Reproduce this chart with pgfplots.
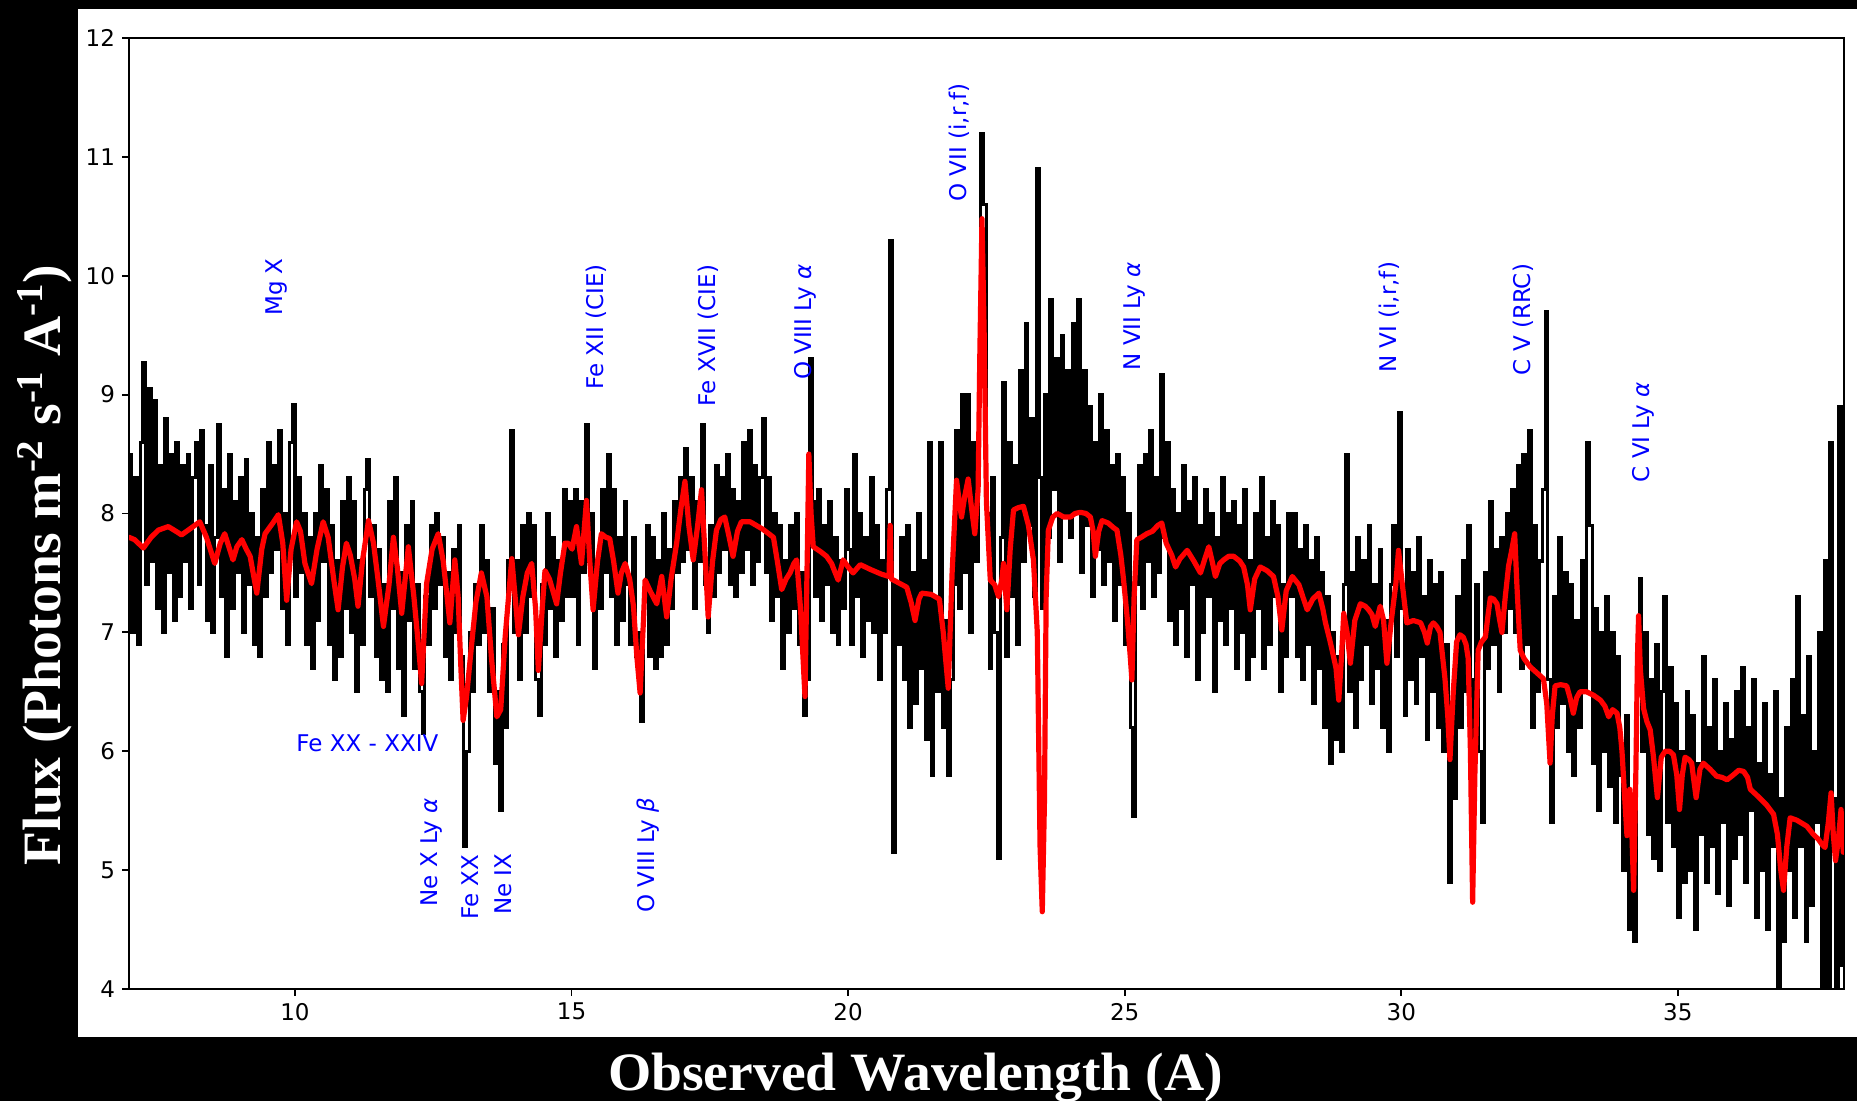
\documentclass[border=0pt]{standalone}
\usepackage{fontspec}
\setmainfont{DejaVu Sans}
\newfontfamily\labelfont{Liberation Serif}[FakeStretch=1.03]
\usepackage{pgfplots}
\pgfplotsset{compat=1.18}
\begin{document}
\begin{tikzpicture}[x=1pt,y=1pt]
\fill[black] (0,0) rectangle (928.5,550.5);
\useasboundingbox (0,0) rectangle (928.5,550.5);
\fill[white] (39,32) rectangle (928.5,546);
\begin{axis}[
  at={(64.5pt,56pt)}, anchor=south west,
  scale only axis, width=857.4pt, height=475.5pt,
  xmin=7, xmax=38, ymin=4, ymax=12,
  xtick={10,15,20,25,30,35}, ytick={4,5,6,7,8,9,10,11,12},
  tick align=outside, xtick pos=bottom, ytick pos=left,
  major tick length=3.5pt,
  axis line style={line width=0.9pt},
  every tick/.style={black, line width=0.9pt},
  tick label style={font=\fontsize{11.5}{13}\selectfont},
  /pgf/number format/assume math mode=true,
  clip=true,
]
\addplot[const plot, black, line width=1.55pt] coordinates {
(7.00,8.5)(7.05,7.0)(7.10,8.3)(7.15,6.9)(7.20,8.6)(7.25,9.27)(7.30,7.4)(7.35,9.05)(7.40,7.6)(7.45,8.95)(7.50,7.2)(7.55,8.4)(7.60,7.0)(7.65,8.8)(7.70,7.5)(7.75,8.5)(7.80,7.1)(7.85,8.6)(7.90,7.3)(7.95,8.4)
(8.00,7.6)(8.05,8.5)(8.10,7.2)(8.15,8.3)(8.20,8.6)(8.25,7.4)(8.30,8.7)(8.35,7.9)(8.40,7.1)(8.45,8.4)(8.50,7.0)(8.55,7.8)(8.60,8.75)(8.65,7.3)(8.70,8.2)(8.75,6.8)(8.80,8.5)(8.85,7.2)(8.90,8.1)(8.95,7.5)
(9.00,8.3)(9.05,7.0)(9.10,8.45)(9.15,7.4)(9.20,8.0)(9.25,6.9)(9.30,7.8)(9.35,6.8)(9.40,8.2)(9.45,7.3)(9.50,8.6)(9.55,7.5)(9.60,8.4)(9.65,7.7)(9.70,8.7)(9.75,7.2)(9.80,8.0)(9.85,6.9)(9.90,8.6)(9.95,8.92)
(10.00,7.3)(10.05,8.3)(10.10,7.5)(10.15,8.0)(10.20,6.9)(10.25,7.8)(10.30,6.7)(10.35,8.0)(10.40,7.1)(10.45,8.4)(10.50,7.6)(10.55,8.2)(10.60,6.9)(10.65,7.9)(10.70,6.6)(10.75,7.6)(10.80,6.8)(10.85,8.1)(10.90,7.2)(10.95,8.3)
(11.00,7.0)(11.05,8.1)(11.10,6.5)(11.15,7.6)(11.20,6.9)(11.25,8.2)(11.30,8.45)(11.35,7.3)(11.40,7.9)(11.45,6.8)(11.50,7.7)(11.55,6.6)(11.60,7.4)(11.65,6.5)(11.70,8.1)(11.75,7.2)(11.80,8.3)(11.85,6.7)(11.90,7.5)(11.95,6.3)
(12.00,7.9)(12.05,7.1)(12.10,8.1)(12.15,6.7)(12.20,7.4)(12.25,6.5)(12.30,6.15)(12.35,7.3)(12.40,6.9)(12.45,7.9)(12.50,7.2)(12.55,8.0)(12.60,7.4)(12.65,7.8)(12.70,6.8)(12.75,7.5)(12.80,6.6)(12.85,7.7)(12.90,7.0)(12.95,7.9)
(13.00,6.8)(13.05,5.2)(13.10,6.0)(13.15,7.0)(13.20,6.5)(13.25,7.4)(13.30,6.9)(13.35,7.9)(13.40,7.0)(13.45,7.6)(13.50,6.5)(13.55,7.2)(13.60,5.9)(13.65,6.5)(13.70,5.5)(13.75,6.9)(13.80,6.2)(13.85,7.6)(13.90,8.7)(13.95,7.0)
(14.00,7.6)(14.05,6.6)(14.10,7.9)(14.15,7.0)(14.20,8.0)(14.25,7.3)(14.30,7.9)(14.35,6.6)(14.40,6.3)(14.45,7.4)(14.50,6.9)(14.55,8.0)(14.60,7.2)(14.65,7.8)(14.70,6.8)(14.75,7.6)(14.80,7.1)(14.85,8.2)(14.90,7.3)(14.95,8.1)
(15.00,7.3)(15.05,8.2)(15.10,6.9)(15.15,8.1)(15.20,7.5)(15.25,8.75)(15.30,7.6)(15.35,8.0)(15.40,6.7)(15.45,7.6)(15.50,7.2)(15.55,8.2)(15.60,7.5)(15.65,8.5)(15.70,7.3)(15.75,8.2)(15.80,6.9)(15.85,7.8)(15.90,7.1)(15.95,8.1)
(16.00,7.4)(16.05,6.9)(16.10,7.8)(16.15,6.8)(16.20,7.0)(16.25,6.25)(16.30,7.3)(16.35,7.9)(16.40,6.8)(16.45,7.8)(16.50,6.7)(16.55,7.6)(16.60,6.8)(16.65,8.0)(16.70,6.9)(16.75,7.7)(16.80,7.2)(16.85,8.1)(16.90,7.5)(16.95,8.3)
(17.00,7.6)(17.05,8.55)(17.10,7.7)(17.15,8.3)(17.20,7.2)(17.25,8.1)(17.30,7.6)(17.35,8.75)(17.40,7.4)(17.45,7.0)(17.50,7.9)(17.55,7.3)(17.60,8.4)(17.65,7.5)(17.70,8.3)(17.75,7.7)(17.80,8.5)(17.85,7.4)(17.90,8.2)(17.95,7.3)
(18.00,8.1)(18.05,7.5)(18.10,8.6)(18.15,7.7)(18.20,8.7)(18.25,7.4)(18.30,8.4)(18.35,7.6)(18.40,8.3)(18.45,8.8)(18.50,7.5)(18.55,8.3)(18.60,7.1)(18.65,8.0)(18.70,7.3)(18.75,7.9)(18.80,6.7)(18.85,7.6)(18.90,7.0)(18.95,7.9)
(19.00,7.2)(19.05,8.0)(19.10,6.9)(19.15,7.5)(19.20,6.3)(19.25,6.6)(19.30,9.3)(19.35,8.1)(19.40,7.3)(19.45,8.2)(19.50,7.1)(19.55,7.9)(19.60,7.4)(19.65,8.1)(19.70,7.0)(19.75,7.8)(19.80,6.9)(19.85,7.6)(19.90,7.2)(19.95,8.2)
(20.00,7.7)(20.05,6.9)(20.10,8.5)(20.15,7.3)(20.20,8.0)(20.25,6.8)(20.30,7.8)(20.35,7.1)(20.40,8.3)(20.45,7.0)(20.50,7.9)(20.55,6.6)(20.60,7.6)(20.65,7.0)(20.70,8.2)(20.75,10.3)(20.80,5.15)(20.85,7.4)(20.90,6.9)(20.95,7.8)
(21.00,6.6)(21.05,7.9)(21.10,6.2)(21.15,7.5)(21.20,6.4)(21.25,8.0)(21.30,6.7)(21.35,7.6)(21.40,6.1)(21.45,8.6)(21.50,5.8)(21.55,7.3)(21.60,6.5)(21.65,8.6)(21.70,6.2)(21.75,7.1)(21.80,5.8)(21.85,6.6)(21.90,7.4)(21.95,8.7)
(22.00,7.2)(22.05,9.0)(22.10,7.5)(22.15,9.0)(22.20,7.0)(22.25,8.6)(22.30,7.6)(22.35,9.3)(22.40,11.2)(22.45,10.6)(22.50,8.0)(22.55,6.7)(22.60,8.3)(22.65,7.0)(22.70,5.1)(22.75,7.8)(22.80,9.1)(22.85,6.8)(22.90,8.6)(22.95,7.3)
(23.00,8.4)(23.05,6.9)(23.10,9.2)(23.15,7.6)(23.20,9.6)(23.25,7.9)(23.30,8.8)(23.35,7.3)(23.40,10.9)(23.45,8.3)(23.50,7.2)(23.55,9.0)(23.60,7.8)(23.65,9.8)(23.70,8.2)(23.75,9.3)(23.80,7.6)(23.85,9.5)(23.90,8.0)(23.95,9.2)
(24.00,7.8)(24.05,9.6)(24.10,8.0)(24.15,9.8)(24.20,7.5)(24.25,9.2)(24.30,7.9)(24.35,8.9)(24.40,7.3)(24.45,8.6)(24.50,7.7)(24.55,9.0)(24.60,7.4)(24.65,8.7)(24.70,7.6)(24.75,8.4)(24.80,7.1)(24.85,8.5)(24.90,7.4)(24.95,8.3)
(25.00,6.9)(25.05,8.0)(25.10,6.2)(25.15,5.45)(25.20,7.4)(25.25,8.4)(25.30,7.2)(25.35,8.5)(25.40,7.6)(25.45,8.7)(25.50,7.3)(25.55,8.3)(25.60,7.5)(25.65,9.17)(25.70,7.8)(25.75,8.6)(25.80,7.1)(25.85,8.2)(25.90,6.9)(25.95,8.0)
(26.00,7.2)(26.05,8.4)(26.10,6.8)(26.15,8.1)(26.20,7.4)(26.25,8.3)(26.30,6.6)(26.35,7.9)(26.40,7.0)(26.45,8.2)(26.50,7.3)(26.55,8.0)(26.60,6.5)(26.65,7.8)(26.70,7.1)(26.75,8.3)(26.80,6.9)(26.85,8.0)(26.90,7.2)(26.95,8.1)
(27.00,6.7)(27.05,7.9)(27.10,7.0)(27.15,8.2)(27.20,6.6)(27.25,7.6)(27.30,6.8)(27.35,8.0)(27.40,7.2)(27.45,8.3)(27.50,6.7)(27.55,7.8)(27.60,6.9)(27.65,8.1)(27.70,7.3)(27.75,7.9)(27.80,6.5)(27.85,7.4)(27.90,6.8)(27.95,8.0)
(28.00,7.3)(28.05,8.0)(28.10,6.8)(28.15,7.7)(28.20,6.6)(28.25,7.9)(28.30,6.9)(28.35,7.6)(28.40,6.4)(28.45,7.8)(28.50,6.7)(28.55,7.5)(28.60,6.2)(28.65,7.3)(28.70,5.9)(28.75,7.0)(28.80,6.1)(28.85,6.8)(28.90,6.0)(28.95,7.4)
(29.00,8.5)(29.05,6.5)(29.10,7.5)(29.15,6.2)(29.20,7.8)(29.25,6.6)(29.30,7.6)(29.35,6.9)(29.40,7.9)(29.45,6.4)(29.50,7.4)(29.55,6.7)(29.60,7.7)(29.65,6.2)(29.70,7.1)(29.75,6.0)(29.80,7.4)(29.85,7.9)(29.90,6.8)(29.95,8.85)
(30.00,7.2)(30.05,6.3)(30.10,7.7)(30.15,6.6)(30.20,7.5)(30.25,6.4)(30.30,7.8)(30.35,6.8)(30.40,7.3)(30.45,6.1)(30.50,7.6)(30.55,6.5)(30.60,7.4)(30.65,6.2)(30.70,7.5)(30.75,6.0)(30.80,6.9)(30.85,4.9)(30.90,6.4)(30.95,5.6)
(31.00,7.3)(31.05,6.2)(31.10,7.6)(31.15,6.5)(31.20,7.9)(31.25,5.8)(31.30,6.6)(31.35,7.4)(31.40,6.0)(31.45,5.4)(31.50,7.5)(31.55,6.7)(31.60,8.1)(31.65,6.9)(31.70,7.7)(31.75,6.5)(31.80,7.8)(31.85,7.0)(31.90,8.0)(31.95,7.2)
(32.00,8.2)(32.05,7.0)(32.10,8.4)(32.15,6.7)(32.20,8.5)(32.25,6.9)(32.30,8.7)(32.35,6.2)(32.40,7.9)(32.45,6.5)(32.50,7.6)(32.55,8.2)(32.60,9.7)(32.65,6.6)(32.70,5.4)(32.75,7.3)(32.80,6.2)(32.85,7.8)(32.90,6.4)(32.95,7.5)
(33.00,6.0)(33.05,7.4)(33.10,5.8)(33.15,7.1)(33.20,6.2)(33.25,7.6)(33.30,6.5)(33.35,8.6)(33.40,7.9)(33.45,5.9)(33.50,7.2)(33.55,5.5)(33.60,7.0)(33.65,6.0)(33.70,7.3)(33.75,5.7)(33.80,7.0)(33.85,5.4)(33.90,6.8)(33.95,5.8)
(34.00,5.0)(34.05,6.3)(34.10,4.5)(34.15,5.6)(34.20,4.4)(34.25,6.8)(34.30,7.45)(34.35,6.0)(34.40,7.0)(34.45,5.3)(34.50,6.6)(34.55,5.1)(34.60,6.9)(34.65,5.0)(34.70,6.5)(34.75,7.3)(34.80,5.4)(34.85,6.7)(34.90,5.2)(34.95,6.4)
(35.00,4.6)(35.05,6.0)(35.10,4.9)(35.15,6.5)(35.20,5.0)(35.25,6.3)(35.30,4.5)(35.35,5.9)(35.40,5.3)(35.45,6.8)(35.50,4.9)(35.55,6.2)(35.60,5.2)(35.65,6.6)(35.70,4.8)(35.75,6.0)(35.80,5.4)(35.85,6.4)(35.90,4.7)(35.95,6.1)
(36.00,5.1)(36.05,6.5)(36.10,5.3)(36.15,6.7)(36.20,4.9)(36.25,6.2)(36.30,5.5)(36.35,6.6)(36.40,4.6)(36.45,5.9)(36.50,5.0)(36.55,6.4)(36.60,4.5)(36.65,5.8)(36.70,5.2)(36.75,6.5)(36.80,4.0)(36.85,5.6)(36.90,4.4)(36.95,6.2)
(37.00,5.0)(37.05,6.6)(37.10,4.6)(37.15,7.3)(37.20,5.2)(37.25,6.3)(37.30,4.4)(37.35,6.8)(37.40,4.7)(37.45,6.0)(37.50,5.4)(37.55,7.0)(37.60,4.0)(37.65,7.6)(37.70,4.0)(37.75,8.6)(37.80,5.6)(37.85,4.0)(37.90,8.9)(37.95,4.2)
(38.00,7.5)
};
\addplot[red, line width=2.6pt, line join=round, line cap=round] coordinates {
(7.00,7.80)(7.10,7.78)(7.26,7.71)(7.40,7.80)(7.53,7.86)(7.71,7.89)(7.85,7.85)(7.95,7.82)(8.10,7.87)(8.28,7.93)(8.40,7.80)(8.55,7.58)(8.65,7.75)(8.73,7.83)(8.88,7.61)(8.95,7.72)(9.04,7.78)(9.12,7.70)(9.19,7.64)(9.31,7.33)(9.40,7.70)(9.46,7.83)(9.60,7.92)(9.70,7.99)(9.78,7.75)(9.85,7.27)(9.93,7.70)
(10.03,7.93)(10.10,7.85)(10.18,7.58)(10.30,7.41)(10.40,7.70)(10.51,7.93)(10.60,7.80)(10.70,7.45)(10.78,7.19)(10.86,7.55)(10.93,7.75)(11.00,7.65)(11.08,7.45)(11.14,7.22)(11.22,7.60)(11.33,7.94)(11.42,7.75)(11.50,7.45)(11.60,7.05)(11.70,7.40)(11.78,7.80)(11.85,7.55)(11.93,7.16)
(12.05,7.72)(12.15,7.30)(12.24,6.85)(12.29,6.57)(12.38,7.41)(12.48,7.70)(12.59,7.83)(12.68,7.60)(12.75,7.30)(12.80,7.08)(12.89,7.61)(12.95,7.30)(13.00,6.70)(13.04,6.26)(13.10,6.45)(13.19,6.88)(13.27,7.25)(13.37,7.50)(13.47,7.30)(13.55,6.80)(13.65,6.29)(13.72,6.35)(13.80,6.96)(13.92,7.62)(13.98,7.30)
(14.04,6.98)(14.12,7.30)(14.20,7.50)(14.28,7.58)(14.35,7.20)(14.40,6.68)(14.47,7.20)(14.52,7.52)(14.60,7.45)(14.73,7.24)(14.80,7.50)(14.88,7.75)(14.94,7.75)(15.01,7.70)(15.09,7.89)(15.18,7.58)(15.27,8.11)(15.33,7.60)(15.39,7.19)(15.47,7.60)(15.54,7.83)(15.62,7.80)(15.69,7.79)(15.76,7.60)(15.84,7.33)(15.90,7.50)(15.97,7.58)
(16.05,7.45)(16.12,7.22)(16.18,6.80)(16.24,6.49)(16.30,7.10)(16.33,7.44)(16.42,7.35)(16.54,7.24)(16.63,7.47)(16.72,7.13)(16.80,7.45)(16.90,7.75)(16.98,8.05)(17.05,8.27)(17.12,7.90)(17.20,7.61)(17.28,7.90)(17.35,8.20)(17.42,7.60)(17.47,7.13)(17.55,7.60)(17.62,7.86)(17.70,7.95)(17.77,7.97)(17.85,7.80)(17.92,7.64)
(18.00,7.85)(18.07,7.93)(18.23,7.93)(18.45,7.87)(18.65,7.80)(18.72,7.60)(18.80,7.36)(18.88,7.45)(18.95,7.50)(19.02,7.58)(19.07,7.61)(19.14,7.20)(19.22,6.46)(19.26,7.60)(19.29,8.50)(19.33,8.00)(19.37,7.72)(19.50,7.68)(19.61,7.64)(19.70,7.58)(19.82,7.44)(19.91,7.61)
(20.00,7.55)(20.09,7.50)(20.22,7.57)(20.40,7.53)(20.60,7.49)(20.74,7.47)(20.76,7.90)(20.78,7.45)(20.90,7.42)(21.06,7.38)(21.14,7.25)(21.21,7.10)(21.28,7.28)(21.33,7.33)(21.50,7.32)(21.65,7.28)(21.72,7.00)(21.81,6.53)(21.88,7.50)(21.96,8.28)
(22.01,8.10)(22.05,7.97)(22.11,8.15)(22.17,8.29)(22.23,8.05)(22.29,7.83)(22.35,8.20)(22.38,9.30)(22.42,10.48)(22.46,9.50)(22.50,8.10)(22.57,7.44)(22.65,7.40)(22.72,7.30)(22.78,7.45)(22.81,7.58)(22.87,7.19)(22.93,7.70)(22.99,8.03)
(23.08,8.05)(23.17,8.06)(23.26,7.90)(23.35,7.61)(23.42,7.00)(23.47,5.20)(23.51,4.65)(23.55,5.60)(23.58,7.30)(23.62,7.86)(23.70,7.97)(23.78,8.00)(23.90,7.97)(24.02,7.97)(24.10,8.00)(24.20,8.01)(24.30,8.00)(24.38,7.97)(24.43,7.85)(24.47,7.64)(24.53,7.85)(24.59,7.94)(24.70,7.92)(24.80,7.88)(24.86,7.86)(24.93,7.65)(24.98,7.44)
(25.05,7.10)(25.10,6.80)(25.13,6.60)(25.17,7.30)(25.22,7.78)(25.30,7.80)(25.40,7.83)(25.50,7.85)(25.60,7.90)(25.67,7.92)(25.75,7.75)(25.85,7.65)(25.92,7.55)(26.00,7.62)(26.13,7.69)(26.25,7.60)(26.37,7.50)(26.45,7.62)(26.52,7.72)(26.58,7.60)(26.64,7.47)(26.72,7.58)(26.79,7.61)(26.88,7.64)(26.97,7.64)
(27.08,7.60)(27.15,7.55)(27.22,7.40)(27.27,7.19)(27.35,7.45)(27.45,7.55)(27.57,7.52)(27.69,7.47)(27.77,7.30)(27.84,7.02)(27.92,7.35)(28.03,7.47)(28.15,7.40)(28.22,7.30)(28.30,7.19)(28.40,7.28)(28.51,7.33)(28.58,7.20)(28.63,7.08)(28.70,6.95)(28.75,6.85)(28.82,6.70)(28.87,6.43)(28.92,6.80)(28.96,7.16)
(29.02,7.00)(29.08,6.74)(29.16,7.10)(29.26,7.24)(29.35,7.22)(29.41,7.19)(29.47,7.15)(29.53,7.05)(29.58,7.15)(29.62,7.22)(29.68,7.10)(29.74,6.74)(29.82,7.10)(29.90,7.40)(29.95,7.69)(30.02,7.40)(30.10,7.08)(30.22,7.10)(30.35,7.08)(30.42,7.00)(30.47,6.91)(30.53,7.05)(30.58,7.08)(30.64,7.05)(30.70,7.00)(30.79,6.61)(30.84,6.30)(30.88,5.93)(30.94,6.50)
(31.00,6.92)(31.06,6.98)(31.12,6.96)(31.17,6.90)(31.21,6.78)(31.25,6.00)(31.29,4.73)(31.33,5.80)(31.39,6.85)(31.45,6.92)(31.52,6.96)(31.57,7.15)(31.61,7.29)(31.67,7.28)(31.73,7.24)(31.78,7.10)(31.82,7.00)(31.88,7.30)(31.94,7.56)
(32.00,7.70)(32.05,7.83)(32.09,7.40)(32.15,6.85)(32.22,6.78)(32.33,6.71)(32.45,6.66)(32.57,6.61)(32.63,6.40)(32.69,5.90)(32.73,6.30)(32.78,6.55)(32.88,6.56)(32.99,6.55)(33.05,6.45)(33.11,6.32)(33.17,6.45)(33.23,6.50)(33.35,6.50)(33.48,6.47)(33.60,6.43)(33.68,6.38)(33.75,6.29)(33.82,6.35)(33.90,6.32)(33.95,6.20)(33.99,6.00)
(34.04,5.60)(34.08,5.29)(34.13,5.68)(34.17,5.30)(34.20,4.83)(34.24,5.80)(34.27,6.80)(34.29,7.14)(34.32,6.70)(34.38,6.36)(34.44,6.25)(34.50,6.18)(34.56,5.95)(34.63,5.61)(34.70,5.95)(34.77,6.00)(34.85,6.00)(34.92,5.97)(34.98,5.80)
(35.03,5.51)(35.08,5.80)(35.13,5.95)(35.20,5.93)(35.25,5.90)(35.29,5.75)(35.33,5.61)(35.40,5.85)(35.46,5.90)(35.58,5.85)(35.70,5.79)(35.80,5.78)(35.89,5.76)(36.00,5.80)(36.10,5.84)(36.19,5.83)(36.26,5.78)(36.31,5.68)(36.45,5.62)(36.60,5.55)(36.73,5.47)(36.80,5.30)(36.86,5.00)(36.91,4.83)(36.97,5.20)
(37.03,5.44)(37.15,5.42)(37.33,5.37)(37.45,5.30)(37.54,5.26)(37.60,5.22)(37.66,5.19)(37.72,5.40)(37.77,5.65)(37.81,5.30)(37.85,5.08)(37.90,5.25)(37.95,5.51)(37.99,5.15)
};
\tikzset{lbl/.style={text=blue, inner sep=0pt, font=\fontsize{11.5}{13}\selectfont}}
\node[lbl, rotate=90, anchor=west] at (axis cs:9.66,9.66) {Mg X};
\node[lbl, rotate=90, anchor=west] at (axis cs:15.44,9.04) {Fe XII (CIE)};
\node[lbl, rotate=90, anchor=west] at (axis cs:17.47,8.90) {Fe XVII (CIE)};
\node[lbl, rotate=90, anchor=west] at (axis cs:19.23,9.12) {O VIII Ly {\itshape α}};
\node[lbl, rotate=90, anchor=west] at (axis cs:22.01,10.62) {O VII (i,r,f)};
\node[lbl, rotate=90, anchor=west] at (axis cs:25.18,9.20) {N VII Ly {\itshape α}};
\node[lbl, rotate=90, anchor=west] at (axis cs:29.78,9.18) {N VI (i,r,f)};
\node[lbl, rotate=90, anchor=west] at (axis cs:32.20,9.16) {C V (RRC)};
\node[lbl, rotate=90, anchor=west] at (axis cs:34.37,8.26) {C VI Ly {\itshape α}};
\node[lbl, anchor=west] at (axis cs:10.02,6.07) {Fe XX - XXIV};
\node[lbl, rotate=90, anchor=west] at (axis cs:12.46,4.69) {Ne X Ly {\itshape α}};
\node[lbl, rotate=90, anchor=west] at (axis cs:13.17,4.58) {Fe XX};
\node[lbl, rotate=90, anchor=west] at (axis cs:13.77,4.62) {Ne IX};
\node[lbl, rotate=90, anchor=west] at (axis cs:16.38,4.64) {O VIII Ly {\itshape β}};
\end{axis}
\node[text=white, anchor=base, inner sep=0pt, font=\labelfont\bfseries\fontsize{27}{32}\selectfont] at (457.75,5) {Observed Wavelength (A)};
\node[text=white, anchor=base, rotate=90, inner sep=0pt, font=\labelfont\bfseries\fontsize{27}{32}\selectfont] at (30.5,268) {Flux (Photons m\textsuperscript{-2} s\textsuperscript{-1} A\textsuperscript{-1})};
\end{tikzpicture}
\end{document}
